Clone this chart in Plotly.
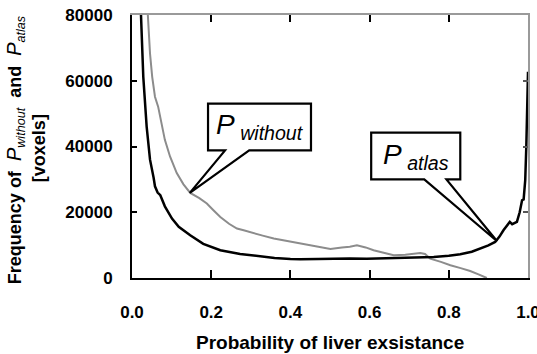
import plotly.graph_objects as go

# P_atlas (black) histogram curve
atlas_x = [0.0227, 0.0285, 0.037, 0.0455, 0.0546, 0.058, 0.0647, 0.0715, 0.083, 0.092, 0.101,
           0.118, 0.147, 0.180, 0.223, 0.273, 0.316, 0.360, 0.400, 0.425, 0.470, 0.509,
           0.550, 0.593, 0.635, 0.678, 0.720, 0.762, 0.800, 0.829, 0.858, 0.880, 0.900, 0.917,
           0.928, 0.938, 0.947, 0.954, 0.960, 0.966, 0.972, 0.979, 0.985, 0.989, 0.993, 0.9957, 1.0]
atlas_y = [80000, 61200, 46060, 36000, 30500, 27900, 26000, 25180, 21800, 19800, 18090,
           15600, 13000, 10400, 8440, 7300, 6610, 6100, 5800, 5700, 5750, 5900,
           5950, 5850, 5950, 6090, 6200, 6400, 6800, 7220, 8000, 8950, 9900, 10960,
           12600, 14530, 15800, 17050, 16350, 16700, 17050, 20000, 23660, 23900, 29750, 39900, 62700]

# P_without (gray) histogram curve
without_x = [0.040, 0.043, 0.0455, 0.051, 0.058, 0.066, 0.075, 0.083, 0.096, 0.113, 0.130,
             0.147, 0.170, 0.189, 0.205, 0.223, 0.245, 0.265, 0.282, 0.299, 0.330, 0.358,
             0.390, 0.425, 0.460, 0.501, 0.530, 0.550, 0.568, 0.590, 0.610, 0.635, 0.661,
             0.690, 0.710, 0.728, 0.740, 0.753, 0.780, 0.804, 0.830, 0.854, 0.875, 0.896]
without_y = [80000, 73330, 68280, 61210, 55150, 52120, 47070, 42020, 36970, 31920, 28500,
             25880, 24300, 22650, 20700, 18580, 16500, 15040, 14500, 14010, 12900, 12000,
             11300, 10475, 9700, 8800, 9300, 9500, 9960, 9300, 8440, 7700, 6910,
             7100, 7300, 7610, 7300, 5900, 4900, 3870, 3000, 2130, 1100, 0]

x_ticks = [0.0, 0.2, 0.4, 0.6, 0.8, 1.0]
x_ticktext = ["0.0", "0.2", "0.4", "0.6", "0.8", "1.0"]
y_ticks = [0, 20000, 40000, 60000, 80000]
y_ticktext = ["0", "20000", "40000", "60000", "80000"]

# callouts: box (x0, x1, y0, y1), pointer base x's, tip (x, y)
callout_without = dict(box=(0.192, 0.452, 38830, 53060), base=(0.235, 0.296), tip=(0.146, 25880))
callout_atlas = dict(box=(0.604, 0.829, 29990, 44220), base=(0.738, 0.794), tip=(0.922, 11180))

FONT = "Arial, 'Liberation Sans', sans-serif"

fig = go.Figure()
fig.add_trace(go.Scatter(x=without_x, y=without_y, mode="lines",
                         line=dict(color="#8c8c8c", width=2), cliponaxis=True,
                         showlegend=False, hoverinfo="skip"))
fig.add_trace(go.Scatter(x=atlas_x, y=atlas_y, mode="lines",
                         line=dict(color="#000000", width=2.5), cliponaxis=True,
                         showlegend=False, hoverinfo="skip"))
# dummy trace for the mirrored (top / right) axes
fig.add_trace(go.Scatter(x=[None], y=[None], xaxis="x2", yaxis="y2",
                         showlegend=False, hoverinfo="skip"))


def callout_path(c):
    x0, x1, y0, y1 = c["box"]
    b1, b2 = c["base"]
    tx, ty = c["tip"]
    return (f"M {x0},{y1} L {x1},{y1} L {x1},{y0} L {b2},{y0} L {tx},{ty} "
            f"L {b1},{y0} L {x0},{y0} Z")


for c in (callout_without, callout_atlas):
    fig.add_shape(type="path", path=callout_path(c), xref="x", yref="y",
                  line=dict(color="black", width=2.2), fillcolor="white", layer="above")

fig.add_annotation(x=(callout_without["box"][0] + callout_without["box"][1]) / 2,
                   y=(callout_without["box"][2] + callout_without["box"][3]) / 2,
                   xref="x", yref="y", showarrow=False,
                   text="<i>P</i><sub><i>&nbsp;without</i></sub>",
                   font=dict(family=FONT, size=28, color="black"))
fig.add_annotation(x=(callout_atlas["box"][0] + callout_atlas["box"][1]) / 2,
                   y=(callout_atlas["box"][2] + callout_atlas["box"][3]) / 2,
                   xref="x", yref="y", showarrow=False,
                   text="<i>P</i><sub><i>&nbsp;atlas</i></sub>",
                   font=dict(family=FONT, size=28, color="black"))

# y-axis title (two lines)
fig.add_annotation(x=(15 - 132) / 396, y=(277.7 - 150) / 262.7, xref="paper", yref="paper",
                   showarrow=False, textangle=-90, xanchor="center", yanchor="middle",
                   text="<b>Frequency of</b>  <span style='font-size:20px'><i>P</i></span><sub><i>without</i></sub>"
                        "  <b>and</b>  <span style='font-size:20px'><i>P</i></span><sub><i>atlas</i></sub>",
                   font=dict(family=FONT, size=18, color="black"))
fig.add_annotation(x=(39 - 132) / 396, y=(277.7 - 148) / 262.7, xref="paper", yref="paper",
                   showarrow=False, textangle=-90, xanchor="center", yanchor="middle",
                   text="<b>[voxels]</b>",
                   font=dict(family=FONT, size=18, color="black"))
# x-axis title
fig.add_annotation(x=0.5, y=(277.7 - 342) / 262.7, xref="paper", yref="paper", showarrow=False,
                   xanchor="center", yanchor="middle",
                   text="<b>Probability of liver exsistance</b>",
                   font=dict(family=FONT, size=19, color="black"))

fig.update_layout(
    width=537, height=354,
    margin=dict(l=132, r=9, t=15, b=76, autoexpand=False),
    paper_bgcolor="white", plot_bgcolor="white",
    font=dict(family=FONT, size=17, color="black"),
    xaxis=dict(range=[0, 1], tickvals=x_ticks, ticktext=x_ticktext, ticks="inside",
               ticklen=8, tickwidth=1.5, tickcolor="black", showline=True, linecolor="black",
               linewidth=2, showgrid=False, zeroline=False, ticklabelstandoff=18,
               ticklabeloverflow="allow", automargin=False,
               tickfont=dict(family=FONT, size=17, color="black", weight="bold")),
    yaxis=dict(range=[0, 80000], tickvals=y_ticks, ticktext=y_ticktext, ticks="inside",
               ticklen=5, tickwidth=1.5, tickcolor="black", showline=True, linecolor="black",
               linewidth=2, showgrid=False, zeroline=False, ticklabelstandoff=14,
               ticklabeloverflow="allow", automargin=False,
               tickfont=dict(family=FONT, size=17, color="black", weight="bold")),
    xaxis2=dict(range=[0, 1], tickvals=x_ticks, overlaying="x", side="top", anchor="y2",
                ticks="inside", ticklen=7, tickwidth=1.5, tickcolor="black",
                showticklabels=False, showline=True, linecolor="#9a9a9a", linewidth=2,
                showgrid=False, zeroline=False, automargin=False),
    yaxis2=dict(range=[0, 80000], tickvals=y_ticks, overlaying="y", side="right", anchor="x2",
                ticks="inside", ticklen=5, tickwidth=1.5, tickcolor="#555555",
                showticklabels=False, showline=True, linecolor="#9a9a9a", linewidth=2,
                showgrid=False, zeroline=False, automargin=False),
)

fig.write_html("out.html")
